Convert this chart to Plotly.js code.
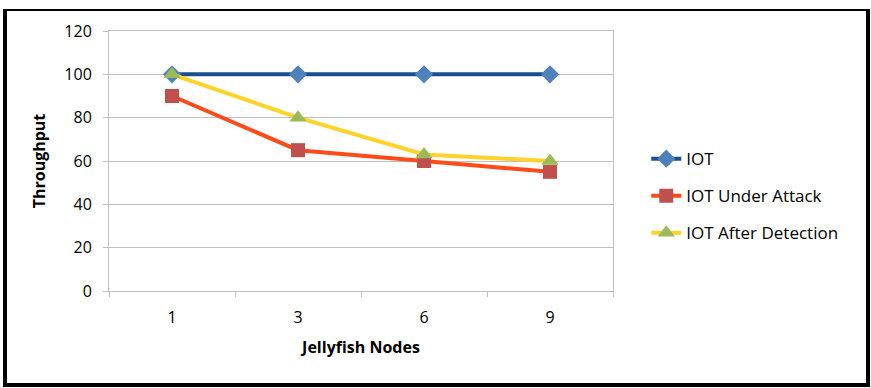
<!DOCTYPE html>
<html>
<head>
<meta charset="utf-8">
<script src="https://cdn.plot.ly/plotly-3.0.1.min.js"></script>
<style>
  html, body { margin: 0; padding: 0; background: #fff; }
  #chart { position: absolute; left: 0; top: 0; width: 871px; height: 388px; }
  #frame { position: absolute; left: 3px; top: 9px; width: 859px; height: 372px;
           border-style: solid; border-color: #000; border-width: 2px 4px 4px 4px; pointer-events: none; }
</style>
</head>
<body>
<div id="chart"></div>
<div id="frame"></div>
<script>
const categories = ["1", "3", "6", "9"];
const iot = [100, 100, 100, 100];
const iotUnderAttack = [90, 65, 60, 55];
const iotAfterDetection = [100, 80, 63, 60];
const yTicks = [0, 20, 40, 60, 80, 100, 120];

const font = "Open Sans, sans-serif";

const traces = [
  {
    x: categories, y: iot, name: "IOT", type: "scatter", mode: "lines+markers",
    legendgroup: "a",
    line: { color: "#1B4F8A", width: 4 },
    marker: { symbol: "diamond", size: 14, color: "#4F81BD" }
  },
  {
    x: categories, y: iotUnderAttack, name: "IOT Under Attack", type: "scatter", mode: "lines+markers",
    legendgroup: "b",
    line: { color: "#FF4A1A", width: 4 },
    marker: { symbol: "square", size: 14, color: "#C0504D" }
  },
  {
    x: categories, y: iotAfterDetection, name: "IOT After Detection", type: "scatter", mode: "lines+markers",
    legendgroup: "c",
    line: { color: "#FFD32A", width: 4 },
    marker: { symbol: "triangle-up", size: 15, color: "#9BBB59" }
  }
];

const layout = {
  width: 871, height: 388,
  margin: { l: 109, r: 258, t: 31, b: 97 },
  paper_bgcolor: "#fff", plot_bgcolor: "#fff",
  font: { family: font, size: 16, color: "#000" },
  showlegend: true,
  legend: {
    x: 1.066, xanchor: "left", y: 0.365, yanchor: "middle",
    traceorder: "grouped", tracegroupgap: 12,
    font: { family: font, size: 17, color: "#000" },
    bgcolor: "rgba(0,0,0,0)"
  },
  xaxis: {
    type: "category",
    range: [-0.5, 3.5],
    tickson: "boundaries",
    ticks: "outside", ticklen: 5, tickcolor: "#BFBFBF",
    showline: true, linecolor: "#BFBFBF", linewidth: 1, mirror: true,
    showgrid: false, zeroline: false,
    tickfont: { family: font, size: 16 },
    ticklabelstandoff: 12,
    title: { text: "<b>Jellyfish Nodes</b>", font: { family: font, size: 16 }, standoff: 14 }
  },
  yaxis: {
    range: [0, 120], tickvals: yTicks, ticktext: yTicks.map(String),
    ticks: "outside", ticklen: 5, tickcolor: "#BFBFBF",
    showline: true, linecolor: "#BFBFBF", linewidth: 1, mirror: true,
    showgrid: true, gridcolor: "#BFBFBF", gridwidth: 1, zeroline: false,
    tickfont: { family: font, size: 16 },
    ticklabelstandoff: 8,
    title: { text: "<b>Throughput</b>", font: { family: font, size: 16 }, standoff: 14 }
  }
};

Plotly.newPlot("chart", traces, layout, { displayModeBar: false, staticPlot: true });
</script>
</body>
</html>
